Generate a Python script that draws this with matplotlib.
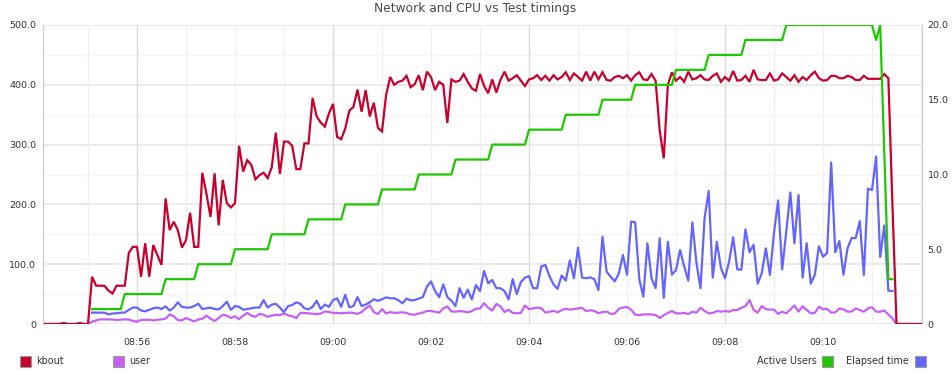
import numpy as np
import pandas as pd
import matplotlib
matplotlib.use("Agg")
import matplotlib.pyplot as plt
from matplotlib.patches import Rectangle

# ---------------- data ----------------
title = "Network and CPU vs Test timings"
start_time = "2024-01-01 08:54:05"
sample_step = "5s"
tick_labels = ["08:56", "08:58", "09:00", "09:02", "09:04", "09:06", "09:08", "09:10"]
left_ticks = [0, 100, 200, 300, 400, 500]
left_tick_labels = ["0", "100.0", "200.0", "300.0", "400.0", "500.0"]
right_ticks = [0, 5, 10, 15, 20]
right_tick_labels = ["0", "5.0", "10.0", "15.0", "20.0"]

# kbout (left axis), one value per 5 s sample
kbout = [
    0, 0, 0, 0, 0, 1.5, 0, 0, 0, 1.5, 0, 0,
    79, 64, 64, 64, 56, 51, 64, 64, 64, 119, 129, 129, 79, 135, 79, 132, 115, 99,
    210, 157, 171, 157, 128, 140, 186, 129, 129, 253, 218, 179, 252, 165, 241, 202, 195, 202,
    298, 255, 274, 266, 242, 249, 253, 244, 262, 320, 251, 305, 305, 298, 259, 259, 302, 302,
    378, 347, 337, 330, 352, 368, 313, 309, 327, 357, 363, 392, 355, 391, 347, 370, 328, 322,
    383, 413, 400, 405, 407, 415, 396, 401, 416, 391, 422, 413, 391, 405, 400, 336, 409, 405,
    407, 418, 405, 394, 390, 418, 398, 386, 409, 387, 408, 422, 407, 411, 416, 407, 398, 409,
    411, 416, 408, 415, 407, 416, 409, 413, 421, 408, 419, 413, 407, 422, 407, 422, 409, 421,
    408, 407, 413, 415, 411, 416, 407, 416, 421, 409, 408, 418, 407, 324, 277, 400, 421, 407,
    413, 405, 422, 409, 411, 416, 409, 408, 415, 419, 405, 413, 407, 423, 407, 408, 415, 405,
    425, 409, 408, 408, 419, 407, 409, 419, 413, 407, 416, 405, 413, 408, 416, 422, 411, 407,
    408, 415, 415, 411, 411, 415, 413, 408, 408, 415, 410, 410, 410, 410, 418, 411, 200,
    0, 0, 0, 0, 0, 0, 0,
]

# user CPU (left axis)
user = [
    0, 0, 0, 0, 0, 1.5, 0, 0, 0, 1.5, 0, 0,
    4, 6, 7.8, 7.8, 7.8, 7.5, 6.7, 7.2, 7.8, 7.5, 5, 4, 6.7, 7, 7, 6, 7, 7.8,
    9, 16, 13, 6.5, 6, 10, 7, 4.5, 7.5, 9, 14, 9, 5, 10, 15.5, 14, 10, 13,
    8, 14, 18.5, 14, 12, 17, 15.5, 12, 14, 15.5, 15, 17.5, 14.5, 13, 10, 18.5, 18.5, 17.8,
    17, 16.5, 17.5, 21, 20, 18.5, 18.5, 17.8, 18.5, 19, 18.5, 17, 20, 26, 31, 20, 16.7, 25,
    17.5, 20, 18.5, 19, 19.5, 18.5, 16, 15.5, 17.5, 19, 21.7, 21.7, 20.5, 19, 26, 29.5, 21, 20.6,
    21.5, 21, 19.5, 21.5, 25.5, 26, 35, 27, 22.5, 33.5, 29.5, 20, 24, 18.5, 17.8, 18.5, 31, 25,
    26, 27.5, 26.5, 19, 20.5, 22, 19.5, 23, 25.5, 24, 25, 26, 27, 21.5, 23, 22, 18, 20,
    20.6, 17, 17.5, 25.5, 27.5, 28.5, 24, 15.5, 15, 16, 16.2, 16, 15, 10, 14.5, 18.5, 21.7, 17.8,
    17.8, 18.5, 16.7, 20.5, 19, 27, 21.7, 17.8, 18.5, 21.7, 20.6, 21.7, 20.6, 23.4, 23.4, 27, 30, 40,
    23.4, 19, 30, 25, 24, 24, 17, 20.6, 17.8, 24.5, 31, 20.6, 29.5, 23.4, 17.8, 18.5, 29, 24.5,
    25.5, 19, 19.5, 26, 24.5, 20.6, 21, 26, 23.4, 20.6, 26.2, 28, 20.6, 20.6, 22.5, 16, 9.5,
    0, 0, 0, 0, 0, 0, 0,
]

# Active Users (right axis), samples 12..208
active_users = [
    1, 1, 1, 1, 1, 1, 1, 1,
    2, 2, 2, 2, 2, 2, 2, 2, 2, 2,
    3, 3, 3, 3, 3, 3, 3, 3,
    4, 4, 4, 4, 4, 4, 4, 4, 4,
    5, 5, 5, 5, 5, 5, 5, 5, 5,
    6, 6, 6, 6, 6, 6, 6, 6, 6,
    7, 7, 7, 7, 7, 7, 7, 7, 7,
    8, 8, 8, 8, 8, 8, 8, 8, 8,
    9, 9, 9, 9, 9, 9, 9, 9, 9,
    10, 10, 10, 10, 10, 10, 10, 10, 10,
    11, 11, 11, 11, 11, 11, 11, 11, 11,
    12, 12, 12, 12, 12, 12, 12, 12, 12,
    13, 13, 13, 13, 13, 13, 13, 13, 13,
    14, 14, 14, 14, 14, 14, 14, 14, 14,
    15, 15, 15, 15, 15, 15, 15, 15,
    16, 16, 16, 16, 16, 16, 16, 16, 16, 16,
    17, 17, 17, 17, 17, 17, 17, 17,
    18, 18, 18, 18, 18, 18, 18, 18, 18,
    19, 19, 19, 19, 19, 19, 19, 19, 19, 19,
    20, 20, 20, 20, 20, 20, 20, 20, 20, 20, 20, 20, 20, 20, 20, 20, 20, 20, 20, 20, 20, 20,
    19, 20, 11.5, 3, 3,
]

# Elapsed time (right axis), samples 12..208
elapsed = [
    0.76, 0.76, 0.76, 0.76, 0.65, 0.7, 0.72, 0.76, 0.76, 0.95, 1.1, 1.1, 0.9, 0.85, 0.95, 1.05, 1.1, 1.0,
    1.18, 0.9, 1.1, 1.45, 1.15, 1.1, 1.1, 1.2, 1.36, 1.0, 1.05, 1.09, 1.0, 0.98, 1.2, 1.49, 0.95, 1.2,
    1.15, 0.95, 1.0, 1.05, 1.1, 1.1, 1.6, 1.1, 1.3, 1.35, 1.1, 0.8, 1.2, 1.27, 1.45, 1.35, 1.05, 0.98,
    1.15, 1.55, 1.0, 1.3, 1.15, 1.6, 1.72, 1.15, 1.95, 1.12, 1.2, 1.8, 1.2, 1.3, 1.45, 1.65, 1.55, 1.65,
    1.78, 1.72, 1.72, 1.6, 1.38, 1.7, 1.58, 1.6, 1.7, 1.8, 2.5, 2.85, 2.2, 1.8, 2.65, 1.8, 1.56, 1.2,
    2.4, 1.75, 2.3, 1.65, 2.6, 2.2, 3.55, 2.72, 2.94, 2.4, 2.39, 2.2, 1.65, 3.0, 2.0, 2.8, 3.1, 3.2,
    2.4, 2.39, 3.85, 3.95, 3.2, 2.65, 2.35, 3.25, 2.9, 4.25, 3.06, 5.1, 3.1, 3.06, 3.12, 3.0, 2.27, 5.84,
    3.5, 3.16, 2.85, 3.39, 4.62, 3.3, 6.85, 6.8, 3.0, 1.83, 5.4, 3.06, 2.4, 5.73, 1.75, 5.5, 3.3, 3.61,
    4.95, 3.85, 2.9, 6.8, 4.1, 2.39, 7.1, 8.9, 3.1, 5.5, 3.75, 3.06, 4.17, 5.8, 3.65, 3.63, 6.33, 4.8,
    5.3, 2.7, 3.4, 5.06, 3.28, 6.1, 8.27, 3.65, 6.17, 8.8, 5.4, 8.63, 3.1, 5.4, 2.7, 3.3, 5.2, 4.5,
    4.75, 10.8, 4.8, 5.55, 3.3, 5.06, 5.75, 5.75, 6.88, 3.28, 9.05, 8.96, 11.2, 4.48, 6.6, 2.23, 2.2,
]
right_series_first_sample = 12

legend_left = ["kbout", "user"]
legend_right = ["Active Users", "Elapsed time"]

# ---------------- style ----------------
c_kbout = "#c8002d"
c_user = "#c660f5"
c_users = "#1ec800"
c_elapsed = "#6464ff"
text_c = "#333333"

times = pd.date_range(start_time, periods=len(kbout), freq=sample_step)
rt = times[right_series_first_sample:right_series_first_sample + len(elapsed)]

W, H = 953, 375
fig = plt.figure(figsize=(W / 100, H / 100), dpi=100)
L, R, T, B = 43, 922, 25, 324
ax = fig.add_axes([L / W, 1 - B / H, (R - L) / W, (B - T) / H])
ax2 = ax.twinx()

day = "2024-01-01 "
x0 = pd.Timestamp(day + "08:54:04.9")
x1 = pd.Timestamp(day + "09:12:01.2")

# grid
for v in range(0, 501, 50):
    major = v % 100 == 0
    ax.axhline(v, color="#e9e9e9" if major else "#f5f5f5", lw=1.3 if major else 1.0, zorder=0)
for m in pd.date_range(day + "08:55", day + "09:12", freq="1min"):
    dark = m.strftime("%H:%M") in ("08:56", "09:00", "09:04", "09:08")
    ax.axvline(m, color="#dadada" if dark else "#f0f0f0", lw=1.0, zorder=0)

ax.plot(times, kbout, color=c_kbout, lw=1.6, zorder=3, solid_joinstyle="miter")
ax.plot(times, user, color=c_user, lw=1.6, zorder=2)
ax2.plot(rt, active_users, color=c_users, lw=1.6, zorder=3)
ax2.plot(rt, elapsed, color=c_elapsed, lw=1.6, zorder=2)

ax.set_xlim(x0, x1)
ax.set_ylim(0, 500)
ax2.set_ylim(0, 20)

ax.set_yticks(left_ticks)
ax.set_yticklabels(left_tick_labels)
ax2.set_yticks(right_ticks)
ax2.set_yticklabels(right_tick_labels)
ax.set_xticks(pd.to_datetime([day + t for t in tick_labels]))
ax.set_xticklabels(tick_labels)

for a in (ax, ax2):
    a.tick_params(length=0, labelsize=6.8, labelcolor=text_c)
    for s in ("top", "bottom"):
        a.spines[s].set_visible(False)
    a.spines["left"].set_color("#cccccc")
    a.spines["right"].set_color("#cccccc")
ax.tick_params(axis="y", pad=5)
ax2.tick_params(axis="y", pad=4)
ax.tick_params(axis="x", pad=10)
ax.patch.set_visible(False)

fig.text(475 / W, 1 - 8.5 / H, title, ha="center", va="center", fontsize=8.8, color="#4a4a4a")

# legend
def swatch(x, color):
    fig.patches.append(Rectangle((x / W, 1 - 366.5 / H), 11 / W, 11 / H, transform=fig.transFigure,
                                 facecolor=color, edgecolor="#999999", lw=0.8))

ly = 1 - 361 / H
swatch(20, c_kbout)
fig.text(36.5 / W, ly, legend_left[0], ha="left", va="center", fontsize=6.9, color=text_c)
swatch(113, c_user)
fig.text(129.5 / W, ly, legend_left[1], ha="left", va="center", fontsize=6.9, color=text_c)
fig.text(817 / W, ly, legend_right[0], ha="right", va="center", fontsize=6.9, color=text_c)
swatch(822, c_users)
fig.text(909 / W, ly, legend_right[1], ha="right", va="center", fontsize=6.9, color=text_c)
swatch(915, c_elapsed)

fig.savefig("out.png", dpi=100)
